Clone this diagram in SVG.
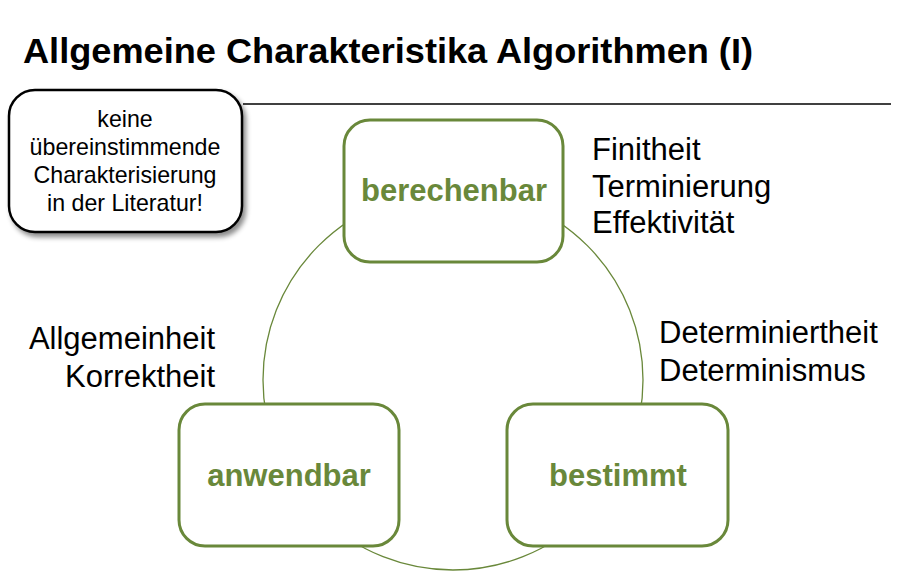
<svg xmlns="http://www.w3.org/2000/svg" width="918" height="588" viewBox="0 0 918 588">
<defs>
<filter id="sh" x="-10%" y="-10%" width="130%" height="130%">
<feDropShadow dx="3" dy="4" stdDeviation="2.5" flood-color="#000" flood-opacity="0.45"/>
</filter>
</defs>
<style>
.t{font-family:"Liberation Sans",Arial,sans-serif;fill:#000}
.box{fill:#fff;stroke:#69883a;stroke-width:3}
.lbl{font-family:"Liberation Sans",Arial,sans-serif;font-weight:bold;font-size:31px;fill:#69883a;text-anchor:middle}
.side{font-size:31px}
.note{font-size:23.2px;text-anchor:middle}
</style>
<rect width="918" height="588" fill="#fff"/>
<text class="t" x="23" y="63" font-size="35" font-weight="bold" textLength="730" lengthAdjust="spacingAndGlyphs">Allgemeine Charakteristika Algorithmen (I)</text>
<line x1="243" y1="104" x2="891" y2="104" stroke="#000" stroke-width="1.3"/>
<g id="connectors">
<circle cx="453" cy="380" r="190" fill="none" stroke="#69883a" stroke-width="1.3"/>
</g>
<g id="note">
<rect x="9" y="90" width="233" height="142" rx="26" fill="#fff" stroke="#000" stroke-width="2.5" filter="url(#sh)"/>
<text class="t note" x="125" y="127">keine</text>
<text class="t note" x="125" y="155">übereinstimmende</text>
<text class="t note" x="125" y="183">Charakterisierung</text>
<text class="t note" x="125" y="211">in der Literatur!</text>
</g>
<g id="berechenbar">
<rect class="box" x="344" y="120" width="219" height="142" rx="26"/>
<text class="lbl" x="454" y="201">berechenbar</text>
</g>
<g id="anwendbar">
<rect class="box" x="179" y="404" width="220" height="142" rx="26"/>
<text class="lbl" x="289" y="486">anwendbar</text>
</g>
<g id="bestimmt">
<rect class="box" x="507" y="404" width="221" height="142" rx="26"/>
<text class="lbl" x="618" y="486">bestimmt</text>
</g>
<g id="labels-top">
<text class="t side" x="592" y="160">Finitheit</text>
<text class="t side" x="592" y="197">Terminierung</text>
<text class="t side" x="592" y="233">Effektivität</text>
</g>
<g id="labels-right">
<text class="t side" x="659" y="343">Determiniertheit</text>
<text class="t side" x="659" y="381">Determinismus</text>
</g>
<g id="labels-left">
<text class="t side" x="215" y="349" text-anchor="end">Allgemeinheit</text>
<text class="t side" x="215" y="387" text-anchor="end">Korrektheit</text>
</g>
</svg>
